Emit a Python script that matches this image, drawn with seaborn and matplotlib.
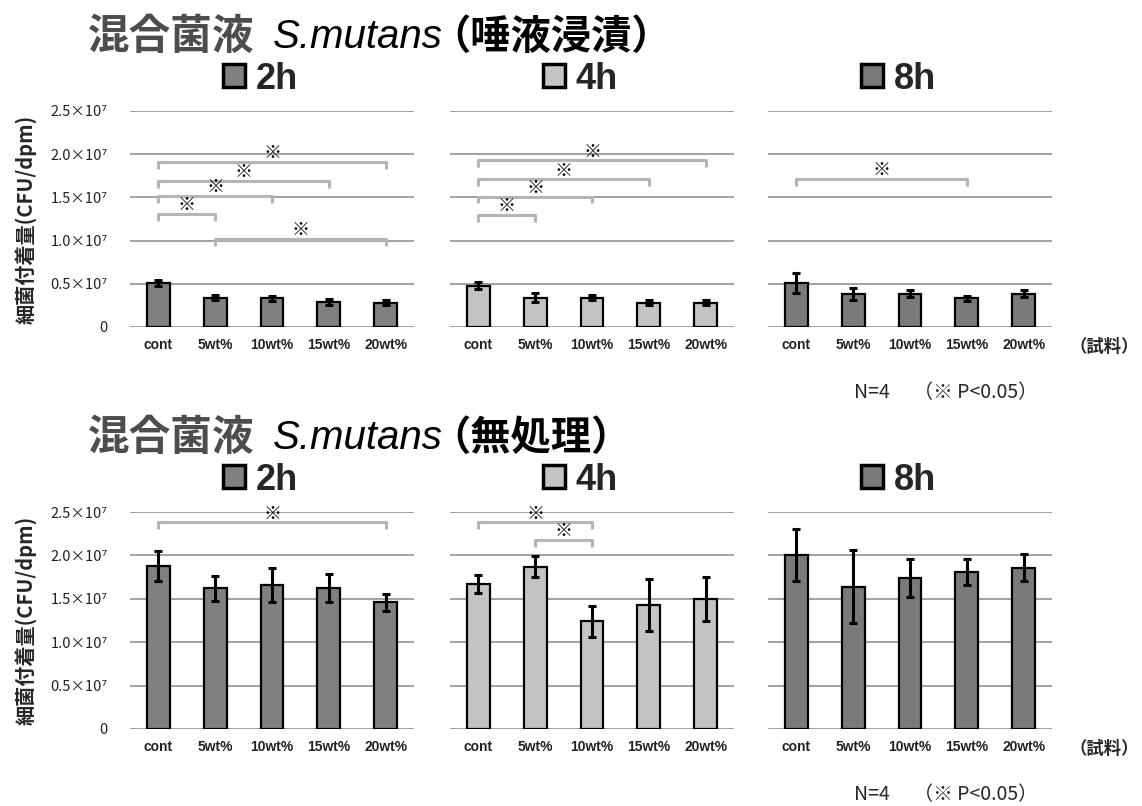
import matplotlib
matplotlib.use("Agg")
import matplotlib.pyplot as plt
import seaborn as sns
import pandas as pd
import numpy as np
from matplotlib import font_manager

sns.set_theme(style="white")
CJK = ["Noto Sans CJK JP", "DejaVu Sans"]
plt.rcParams["font.family"] = CJK

installed = {f.name for f in font_manager.fontManager.ttflist}
NARROW = "Liberation Sans Narrow" if "Liberation Sans Narrow" in installed else "Liberation Sans"

# ---- data (units of 10^7 CFU/dpm) ----
groups = ["cont", "5wt%", "10wt%", "15wt%", "20wt%"]
times = ["2h", "4h", "8h"]

saliva_2h = [0.51, 0.34, 0.33, 0.29, 0.28]
saliva_2h_sd = [0.03, 0.03, 0.03, 0.03, 0.03]
saliva_4h = [0.48, 0.34, 0.34, 0.28, 0.28]
saliva_4h_sd = [0.04, 0.05, 0.03, 0.03, 0.03]
saliva_8h = [0.51, 0.385, 0.385, 0.33, 0.385]
saliva_8h_sd = [0.12, 0.07, 0.04, 0.03, 0.04]

untreated_2h = [1.88, 1.62, 1.66, 1.62, 1.46]
untreated_2h_sd = [0.17, 0.14, 0.20, 0.16, 0.10]
untreated_4h = [1.67, 1.87, 1.24, 1.43, 1.50]
untreated_4h_sd = [0.10, 0.12, 0.18, 0.30, 0.25]
untreated_8h = [2.00, 1.64, 1.74, 1.81, 1.86]
untreated_8h_sd = [0.30, 0.42, 0.22, 0.15, 0.16]

# significance brackets: (from group, to group, height)
saliva_sig = {
    "2h": [(0, 4, 1.91), (0, 3, 1.69), (0, 2, 1.52), (0, 1, 1.31), (1, 4, 1.02)],
    "4h": [(0, 4, 1.93), (0, 3, 1.71), (0, 2, 1.51), (0, 1, 1.30)],
    "8h": [(0, 3, 1.715)],
}
untreated_sig = {
    "2h": [(0, 4, 2.38)],
    "4h": [(0, 2, 2.38), (1, 2, 2.18)],
    "8h": [],
}

yticks = [0, 0.5, 1.0, 1.5, 2.0, 2.5]
ytick_labels = ["0", "0.5×10⁷", "1.0×10⁷", "1.5×10⁷", "2.0×10⁷", "2.5×10⁷"]

bar_colors = {"2h": "#808080", "4h": "#c4c4c4", "8h": "#7a7a7a"}

rows = [
    ("（唾液浸漬）", [saliva_2h, saliva_4h, saliva_8h],
     [saliva_2h_sd, saliva_4h_sd, saliva_8h_sd], saliva_sig),
    ("（無処理）", [untreated_2h, untreated_4h, untreated_8h],
     [untreated_2h_sd, untreated_4h_sd, untreated_8h_sd], untreated_sig),
]

W, H = 1142, 806
fig = plt.figure(figsize=(W / 100, H / 100), dpi=100)
renderer = fig.canvas.get_renderer()

panel_left = [130, 450, 768]
panel_w = 284
row_geom = [(111, 327), (512, 729)]  # pixel top / bottom of each row's axes
title_y = [37, 438]


def draw_title(y_px, suffix):
    x = 88 / W
    y = 1 - y_px / H
    parts = [
        ("混合菌液", dict(family=CJK, weight="bold", color="#4d4d4d", size=30), 18),
        ("S.mutans", dict(family=[NARROW, "DejaVu Sans"], style="italic",
                          color="black", size=29), -12),
        (suffix, dict(family=CJK, weight="bold", color="black", size=29), 0),
    ]
    for txt, kw, gap in parts:
        t = fig.text(x, y, txt, va="center", ha="left", **kw)
        bb = t.get_window_extent(renderer=renderer)
        x = (bb.x1 + gap) / W


for r, (suffix, values, sds, sig) in enumerate(rows):
    top, bot = row_geom[r]
    draw_title(title_y[r], suffix)
    for p, tm in enumerate(times):
        ax = fig.add_axes([panel_left[p] / W, 1 - bot / H, panel_w / W, (bot - top) / H])
        df = pd.DataFrame({"group": groups, "value": values[p], "time": tm})
        sns.barplot(data=df, x="group", y="value", hue="time", order=groups,
                    palette={tm: bar_colors[tm]}, width=0.4, dodge=False,
                    edgecolor="black", linewidth=1.6, errorbar=None, ax=ax,
                    zorder=3)
        ax.errorbar(np.arange(len(groups)), values[p], yerr=sds[p], fmt="none",
                    ecolor="black", elinewidth=2.2, capsize=3, capthick=2.2, zorder=4)
        ax.set_xlim(-0.5, 4.5)
        ax.set_ylim(0, 2.5)
        ax.set_yticks(yticks)
        ax.yaxis.grid(True, color="#9a9a9a", linewidth=1.3, zorder=0)
        ax.set_axisbelow(True)
        for s in ax.spines.values():
            s.set_visible(False)
        ax.tick_params(axis="both", length=0)
        ax.set_xlabel("")
        ax.set_ylabel("")
        ax.set_xticks(range(len(groups)))
        ax.set_xticklabels(groups, fontsize=10, family=[NARROW, "DejaVu Sans"],
                           weight="bold", color="#222222")
        ax.tick_params(axis="x", pad=8)
        if p == 0:
            ax.set_yticklabels(ytick_labels, fontsize=10.5, family=CJK, color="#222222")
            ax.tick_params(axis="y", pad=16)
            ax.set_ylabel("細菌付着量(CFU/dpm)", fontsize=14.5, weight="bold",
                          family=CJK, labelpad=10)
        else:
            ax.set_yticklabels([])
        # significance brackets
        for i, j, h in sig[tm]:
            ax.plot([i, i, j, j], [h - 0.08, h, h, h - 0.08], color="#b5b5b5",
                    linewidth=2.2, solid_capstyle="butt", clip_on=False, zorder=5)
            ax.text((i + j) / 2, h + 0.1, "※", ha="center", va="center",
                    fontsize=13, family=CJK, color="black", clip_on=False, zorder=6)
        # series legend above the panel
        sns.move_legend(ax, "lower center", bbox_to_anchor=(0.46, 1.0), frameon=False,
                        title=None, handlelength=0.6, handleheight=0.6,
                        handletextpad=0.3, borderaxespad=0.0,
                        prop={"family": [NARROW, "DejaVu Sans"], "weight": "bold",
                              "size": 26})
        leg = ax.get_legend()
        for hnd in leg.legend_handles:
            hnd.set_edgecolor("black")
            hnd.set_linewidth(2.5)

    # sample axis label and footnote
    fig.text(1139 / W, 1 - (bot + 20) / H, "（試料）", ha="right", va="center",
             fontsize=12.5, weight="bold", family=CJK)
    fig.text(946 / W, 1 - (bot + 66) / H, "N=4 　（※ P<0.05）", ha="center",
             va="center", fontsize=14, family=CJK)

fig.savefig("out.png", dpi=100, facecolor="white")
